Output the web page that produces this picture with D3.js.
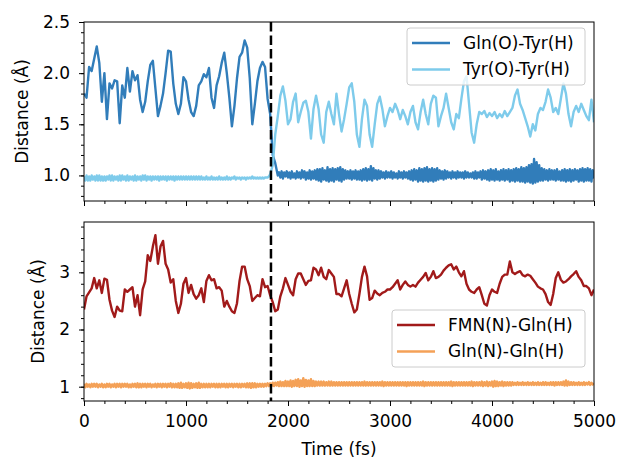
<!DOCTYPE html>
<html>
<head>
<meta charset="utf-8">
<script src="https://cdn.jsdelivr.net/npm/d3@7"></script>
<style>
  body { margin: 0; background: #fff; }
  svg { font-family: "DejaVu Sans", sans-serif; }
</style>
</head>
<body>
<script>
// Each series is stored in pieces: slow parts every 25 fs, noisy parts every 12.5 fs.

// Gln(O)-Tyr(H): 0 - 1875 fs, every 25 fs
const glnOTyrHSlow = [
  1.80,1.76,2.06,2.02,2.14,2.26,2.10,1.72,2.00,1.55,
  1.90,1.85,1.93,1.92,1.51,1.88,1.76,2.05,1.82,2.02,
  1.93,1.98,1.74,1.62,1.72,1.92,2.08,2.12,1.85,1.58,
  1.68,1.80,2.00,2.22,2.21,1.90,1.70,1.60,1.70,1.96,
  1.92,1.74,1.62,1.58,1.68,1.88,1.92,1.99,1.96,2.05,
  1.76,1.66,1.88,1.97,2.10,2.20,2.00,1.76,1.48,1.68,
  1.95,2.16,2.20,2.32,2.25,1.95,1.50,1.70,1.92,2.05,
  2.11,2.06,1.75,1.60,1.20,1.12
];
// Gln(O)-Tyr(H): 1900 - 5000 fs, every 12.5 fs
const glnOTyrHFast = [
  1.00,1.03,0.98,1.04,0.97,1.03,0.99,1.04,
  0.98,1.03,0.97,1.04,0.98,1.02,0.97,1.04,
  0.98,1.03,0.97,1.05,0.98,1.04,0.96,1.03,
  0.97,1.05,0.96,1.04,0.97,1.05,0.96,1.06,
  0.95,1.06,0.94,1.07,0.96,1.05,0.95,1.08,
  0.94,1.06,0.95,1.07,0.94,1.06,0.96,1.07,
  0.95,1.08,0.94,1.06,0.96,1.05,0.97,1.04,
  0.97,1.05,0.96,1.04,0.97,1.05,0.96,1.04,
  0.96,1.05,0.95,1.06,0.96,1.07,0.95,1.06,
  0.96,1.09,0.95,1.07,0.97,1.05,0.96,1.05,
  0.97,1.04,0.98,1.03,0.97,1.04,0.98,1.03,
  0.98,1.04,0.97,1.03,0.98,1.02,0.97,1.04,
  0.98,1.03,0.97,1.04,0.98,1.03,0.97,1.04,
  0.96,1.05,0.95,1.06,0.96,1.05,0.94,1.07,
  0.95,1.06,0.94,1.07,0.95,1.08,0.94,1.06,
  0.95,1.07,0.94,1.06,0.95,1.07,0.96,1.05,
  0.97,1.04,0.96,1.05,0.97,1.04,0.98,1.03,
  0.97,1.04,0.98,1.03,0.97,1.04,0.98,1.03,
  0.98,1.03,0.97,1.04,0.98,1.03,0.98,1.02,
  0.98,1.03,0.97,1.04,0.97,1.03,0.98,1.04,
  0.96,1.05,0.97,1.04,0.96,1.05,0.95,1.06,
  0.96,1.05,0.95,1.06,0.96,1.04,0.95,1.05,
  0.96,1.06,0.95,1.05,0.96,1.06,0.94,1.05,
  0.95,1.06,0.94,1.07,0.95,1.06,0.94,1.08,
  0.94,1.07,0.93,1.08,0.94,1.10,0.93,1.11,
  0.92,1.16,0.93,1.13,0.94,1.10,0.95,1.07,
  0.95,1.06,0.96,1.05,0.95,1.06,0.96,1.05,
  0.96,1.05,0.95,1.06,0.96,1.04,0.95,1.05,
  0.95,1.06,0.94,1.05,0.95,1.06,0.94,1.05,
  0.95,1.06,0.96,1.05,0.94,1.06,0.95,1.07,
  0.94,1.06,0.95,1.07,0.95,1.06,0.94,1.05,
  0.97
];

// Tyr(O)-Tyr(H): 0 - 1825 fs, every 12.5 fs
const tyrOTyrHFast = [
  0.99,0.95,1.00,0.95,0.99,0.95,1.00,0.96,
  0.99,0.95,1.00,0.95,1.00,0.95,0.99,0.95,
  0.99,0.95,0.99,0.96,1.00,0.95,1.00,0.95,
  0.99,0.96,0.99,0.95,1.00,0.95,1.00,0.96,
  0.99,0.95,1.00,0.95,0.99,0.96,0.99,0.95,
  1.00,0.95,0.99,0.96,0.99,0.95,1.00,0.96,
  1.00,0.95,0.99,0.96,0.99,0.95,0.99,0.96,
  0.99,0.96,0.99,0.95,0.99,0.96,0.99,0.96,
  0.99,0.95,0.99,0.96,0.99,0.96,0.99,0.95,
  0.99,0.96,0.99,0.96,0.99,0.96,0.99,0.96,
  0.99,0.96,0.99,0.96,0.99,0.96,0.99,0.96,
  0.99,0.96,0.99,0.96,0.99,0.96,0.98,0.96,
  0.99,0.96,0.98,0.96,0.99,0.96,0.98,0.96,
  0.98,0.96,0.99,0.96,0.98,0.96,0.98,0.96,
  0.99,0.96,0.98,0.96,0.98,0.97,0.99,0.96,
  0.98,0.97,0.98,0.96,0.98,0.97,0.98,0.96,
  0.98,0.97,0.98,0.97,0.99,0.97,0.98,0.97,
  0.98,0.97,0.98,0.97,0.98,0.97,0.98,0.98,
  0.98,0.99,1.01
];
// Tyr(O)-Tyr(H): 1850 - 5000 fs, every 25 fs
const tyrOTyrHSlow = [
  1.10,1.40,1.58,1.78,1.87,1.73,
  1.50,1.55,1.72,1.80,1.52,1.62,1.71,1.73,1.62,1.36,
  1.65,1.78,1.65,1.40,1.32,1.62,1.72,1.60,1.50,1.80,
  1.60,1.43,1.55,1.70,1.86,1.90,1.72,1.40,1.28,1.55,
  1.74,1.68,1.40,1.28,1.50,1.70,1.77,1.65,1.48,1.58,
  1.66,1.62,1.70,1.64,1.55,1.64,1.58,1.50,1.62,1.68,
  1.52,1.45,1.62,1.74,1.60,1.50,1.70,1.78,1.76,1.48,
  1.58,1.66,1.80,1.66,1.52,1.45,1.60,1.56,1.75,1.92,
  1.97,1.70,1.42,1.32,1.50,1.62,1.60,1.63,1.57,1.61,
  1.58,1.62,1.56,1.60,1.57,1.63,1.58,1.62,1.66,1.78,
  1.84,1.70,1.64,1.56,1.48,1.38,1.50,1.44,1.60,1.66,
  1.64,1.72,1.84,1.76,1.62,1.66,1.60,1.75,1.90,1.80,
  1.60,1.48,1.62,1.68,1.62,1.70,1.64,1.58,1.54,1.74,
  1.52
];

// FMN(N)-Gln(H): 0 - 5000 fs, every 25 fs
const fmnNGlnH = [
  2.35,2.58,2.65,2.72,2.90,2.72,2.86,2.64,2.89,2.87,
  2.52,2.33,2.22,2.40,2.33,2.32,2.70,2.66,2.70,2.74,
  2.40,2.60,2.25,2.70,2.84,3.30,3.20,3.45,3.65,3.15,
  3.45,3.55,3.15,3.05,2.82,2.88,2.50,2.29,2.45,2.80,
  2.90,2.64,2.78,2.62,2.54,2.60,2.72,2.48,2.85,2.95,
  2.86,2.88,2.72,2.74,2.68,2.40,2.50,2.40,2.32,2.29,
  2.46,2.85,3.10,3.10,2.88,2.76,2.50,2.55,2.60,2.58,
  2.88,2.74,2.76,2.60,2.48,2.32,2.35,2.58,2.72,2.90,
  2.78,2.66,2.60,2.88,2.98,2.98,2.88,2.78,2.85,2.86,
  3.08,3.05,2.95,3.08,2.92,2.88,3.04,2.98,2.92,2.62,
  2.62,2.58,2.72,2.86,2.62,2.45,2.30,2.35,2.62,2.92,
  3.10,2.93,2.52,2.55,2.68,2.63,2.60,2.64,2.66,2.70,
  2.70,2.74,2.80,2.86,2.70,2.78,2.84,2.78,2.75,2.78,
  2.75,2.82,2.87,2.92,2.99,2.86,2.92,3.02,2.90,2.92,
  2.96,3.03,3.08,3.12,3.14,3.05,3.10,3.00,2.93,3.02,
  2.80,2.70,2.66,2.64,2.70,2.74,2.60,2.45,2.42,2.60,
  2.70,2.66,2.64,2.80,2.92,2.96,2.96,3.19,3.00,2.97,
  3.00,3.02,2.95,2.93,2.96,2.94,2.88,2.82,2.75,2.72,
  2.70,2.62,2.48,2.43,2.62,2.90,3.00,2.87,2.82,2.84,
  2.88,2.93,2.97,3.02,2.92,2.86,2.76,2.76,2.72,2.60,
  2.70
];

// Gln(N)-Gln(H): 0 - 5000 fs, every 12.5 fs
const glnNGlnH = [
  1.05,0.99,1.05,1.00,1.04,0.99,1.05,1.00,
  1.05,1.00,1.05,0.99,1.04,1.00,1.05,0.99,
  1.04,0.99,1.05,1.00,1.05,0.99,1.04,1.00,
  1.05,0.99,1.05,1.00,1.05,0.99,1.05,1.00,
  1.05,1.00,1.05,0.99,1.04,0.99,1.05,1.00,
  1.05,0.99,1.06,0.99,1.05,0.99,1.05,1.00,
  1.05,0.99,1.05,1.00,1.05,0.99,1.04,1.00,
  1.05,0.99,1.05,1.00,1.05,0.99,1.05,1.00,
  1.05,0.99,1.05,1.00,1.06,0.99,1.05,0.99,
  1.05,0.99,1.06,0.98,1.07,0.98,1.05,0.99,
  1.06,0.98,1.07,0.97,1.06,0.98,1.05,0.99,
  1.06,0.98,1.07,0.98,1.05,0.99,1.05,0.99,
  1.05,0.99,1.05,0.99,1.05,1.00,1.05,0.99,
  1.05,0.99,1.05,0.99,1.05,1.00,1.05,0.99,
  1.05,0.99,1.05,1.00,1.05,0.99,1.05,1.00,
  1.05,0.99,1.05,0.99,1.05,1.00,1.05,0.99,
  1.06,0.99,1.06,0.98,1.06,0.99,1.06,0.99,
  1.05,1.00,1.05,1.00,1.05,1.00,1.05,1.01,
  1.06,1.01,1.06,1.01,1.07,1.01,1.07,1.02,
  1.08,1.01,1.09,1.01,1.08,1.01,1.10,1.01,
  1.09,1.01,1.11,1.00,1.10,1.01,1.12,1.01,
  1.13,1.00,1.11,1.01,1.15,1.00,1.12,1.01,
  1.11,1.01,1.13,1.01,1.10,1.01,1.09,1.02,
  1.09,1.02,1.09,1.02,1.09,1.02,1.08,1.02,
  1.09,1.02,1.09,1.02,1.08,1.02,1.08,1.02,
  1.08,1.02,1.08,1.02,1.08,1.02,1.08,1.02,
  1.08,1.02,1.08,1.02,1.08,1.02,1.08,1.02,
  1.08,1.02,1.08,1.02,1.09,1.02,1.08,1.02,
  1.08,1.02,1.08,1.02,1.08,1.02,1.08,1.02,
  1.08,1.02,1.09,1.01,1.08,1.02,1.08,1.02,
  1.08,1.02,1.08,1.02,1.08,1.02,1.08,1.02,
  1.08,1.02,1.08,1.02,1.08,1.01,1.08,1.02,
  1.08,1.02,1.08,1.02,1.08,1.02,1.08,1.02,
  1.08,1.02,1.09,1.01,1.08,1.02,1.08,1.02,
  1.08,1.02,1.08,1.02,1.08,1.02,1.08,1.02,
  1.08,1.02,1.08,1.02,1.08,1.02,1.08,1.02,
  1.09,1.01,1.08,1.02,1.08,1.02,1.08,1.02,
  1.08,1.02,1.08,1.02,1.08,1.02,1.08,1.02,
  1.09,1.01,1.08,1.02,1.08,1.02,1.08,1.02,
  1.09,1.01,1.08,1.02,1.09,1.01,1.08,1.02,
  1.09,1.00,1.10,1.01,1.09,1.01,1.08,1.02,
  1.09,1.01,1.08,1.02,1.08,1.02,1.08,1.02,
  1.08,1.03,1.07,1.03,1.08,1.03,1.07,1.03,
  1.08,1.03,1.07,1.03,1.08,1.03,1.07,1.03,
  1.08,1.03,1.07,1.03,1.08,1.03,1.07,1.03,
  1.08,1.03,1.08,1.03,1.07,1.03,1.08,1.03,
  1.08,1.02,1.08,1.03,1.08,1.03,1.08,1.03,
  1.09,1.02,1.11,1.02,1.09,1.03,1.08,1.03,
  1.08,1.03,1.07,1.03,1.08,1.03,1.07,1.03,
  1.08,1.03,1.07,1.04,1.08,1.03,1.07,1.04,
  1.06
];

const timeTicks = [0, 1000, 2000, 3000, 4000, 5000];
const topTicks = [1.0, 1.5, 2.0, 2.5];
const bottomTicks = [1, 2, 3];
const switchTime = 1833;   // fs, dashed marker

// turn a piece into [time, value] pairs
function samples(t0, step, vals) {
  return vals.map((v, i) => [t0 + i * step, v]);
}

const W = 617, H = 458;
const left = 84, right = 594;
const fontSize = 17;
const lw = 2.4;

const svg = d3.select("body").append("svg")
  .attr("width", W).attr("height", H);

const x = d3.scaleLinear().domain([0, 5000]).range([left, right]);

const panels = [
  {
    id: "top", top: 22, bottom: 201, domain: [0.75, 2.5],
    ticks: topTicks, minor: d3.range(8, 25).map(d => d / 10), fmt: d3.format(".1f"),
    labels: false, ylabelX: 27.5,
    series: [
      {name: "Gln(O)-Tyr(H)", color: "#317dba",
       points: samples(0, 25, glnOTyrHSlow).concat(samples(1900, 12.5, glnOTyrHFast))},
      {name: "Tyr(O)-Tyr(H)", color: "#7ecbeb",
       points: samples(0, 12.5, tyrOTyrHFast).concat(samples(1850, 25, tyrOTyrHSlow))}
    ],
    legend: {x: 407, y: 28, w: 178, h: 57}
  },
  {
    id: "bottom", top: 222, bottom: 401, domain: [0.75, 3.88],
    ticks: bottomTicks, minor: d3.range(4, 20).map(d => d / 5), fmt: d3.format("d"),
    labels: true, ylabelX: 43.5,
    series: [
      {name: "FMN(N)-Gln(H)", color: "#a11a1a", points: samples(0, 25, fmnNGlnH)},
      {name: "Gln(N)-Gln(H)", color: "#f4a157", points: samples(0, 12.5, glnNGlnH)}
    ],
    legend: {x: 392, y: 310, w: 193, h: 57}
  }
];

panels.forEach(p => {
  const y = d3.scaleLinear().domain(p.domain).range([p.bottom, p.top]);
  const g = svg.append("g");

  g.append("clipPath").attr("id", "clip-" + p.id)
    .append("rect")
    .attr("x", left).attr("y", p.top)
    .attr("width", right - left).attr("height", p.bottom - p.top);

  const line = d3.line()
    .x(d => x(d[0]))
    .y(d => y(d[1]));

  p.series.forEach(s => {
    g.append("path")
      .datum(s.points)
      .attr("clip-path", `url(#clip-${p.id})`)
      .attr("fill", "none")
      .attr("stroke", s.color)
      .attr("stroke-width", lw)
      .attr("stroke-linejoin", "round")
      .attr("d", line);
  });

  // switch marker
  g.append("line")
    .attr("x1", x(switchTime)).attr("x2", x(switchTime))
    .attr("y1", p.top).attr("y2", p.bottom)
    .attr("stroke", "#000").attr("stroke-width", 2.5)
    .attr("stroke-dasharray", "9.5,4");

  // minor ticks
  g.append("g")
    .attr("transform", `translate(${left},0)`)
    .call(d3.axisLeft(y).tickValues(p.minor).tickSize(3).tickFormat(""))
    .call(a => a.select(".domain").remove());
  g.append("g")
    .attr("transform", `translate(0,${p.bottom})`)
    .call(d3.axisBottom(x).tickValues(d3.range(0, 5001, 200)).tickSize(3).tickFormat(""))
    .call(a => a.select(".domain").remove());

  // major ticks
  g.append("g")
    .attr("transform", `translate(${left},0)`)
    .call(d3.axisLeft(y).tickValues(p.ticks).tickSize(5).tickPadding(9).tickFormat(p.fmt))
    .call(a => a.select(".domain").remove());
  g.append("g")
    .attr("transform", `translate(0,${p.bottom})`)
    .call(d3.axisBottom(x).tickValues(timeTicks).tickSize(5).tickPadding(9)
      .tickFormat(p.labels ? d3.format("d") : ""))
    .call(a => a.select(".domain").remove());

  g.selectAll(".tick line").attr("stroke", "#000").attr("stroke-width", 1);
  g.selectAll(".tick text").attr("font-size", fontSize).attr("font-family", "DejaVu Sans").attr("fill", "#000");

  // frame
  g.append("rect")
    .attr("x", left).attr("y", p.top)
    .attr("width", right - left).attr("height", p.bottom - p.top)
    .attr("fill", "none").attr("stroke", "#000").attr("stroke-width", 1);

  // y label
  g.append("text")
    .attr("transform", `translate(${p.ylabelX},${(p.top + p.bottom) / 2}) rotate(-90)`)
    .attr("text-anchor", "middle")
    .attr("font-size", fontSize)
    .text("Distance (Å)");

  // legend
  const L = p.legend;
  const lg = g.append("g");
  lg.append("rect")
    .attr("x", L.x).attr("y", L.y).attr("width", L.w).attr("height", L.h)
    .attr("rx", 3)
    .attr("fill", "#fff").attr("fill-opacity", 0.8)
    .attr("stroke", "#cccccc").attr("stroke-width", 1);
  p.series.forEach((s, i) => {
    const cy = L.y + 15 + i * 26.5;
    lg.append("line")
      .attr("x1", L.x + 5).attr("x2", L.x + 43)
      .attr("y1", cy).attr("y2", cy)
      .attr("stroke", s.color).attr("stroke-width", lw);
    lg.append("text")
      .attr("x", L.x + 56).attr("y", cy)
      .attr("dy", "0.35em")
      .attr("font-size", fontSize)
      .text(s.name);
  });
});

svg.append("text")
  .attr("x", (left + right) / 2).attr("y", 455)
  .attr("text-anchor", "middle")
  .attr("font-size", fontSize)
  .text("Time (fs)");
</script>
</body>
</html>
